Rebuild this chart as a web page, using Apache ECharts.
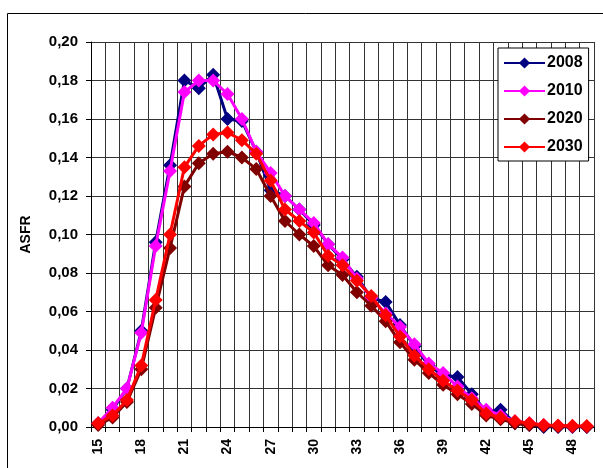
<!DOCTYPE html>
<html>
<head>
<meta charset="utf-8">
<script src="https://cdn.jsdelivr.net/npm/echarts@6/dist/echarts.min.js"></script>
<style>html,body{margin:0;padding:0;background:#fff;}#c{width:603px;height:468px;}</style>
</head>
<body>
<div id="c"></div>
<script>
var ages = ['15','16','17','18','19','20','21','22','23','24','25','26','27','28','29','30','31','32','33','34','35','36','37','38','39','40','41','42','43','44','45','46','47','48','49'];
var s2008 = [0.002,0.009,0.020,0.050,0.096,0.136,0.180,0.176,0.183,0.160,0.159,0.143,0.123,0.120,0.113,0.105,0.095,0.087,0.078,0.067,0.065,0.053,0.042,0.032,0.027,0.026,0.017,0.008,0.009,0.002,0.001,0.000,0.000,0.000,0.000];
var s2010 = [0.002,0.010,0.020,0.049,0.094,0.133,0.174,0.180,0.180,0.173,0.160,0.143,0.132,0.120,0.113,0.106,0.095,0.088,0.077,0.067,0.059,0.052,0.043,0.033,0.028,0.021,0.015,0.009,0.006,0.003,0.002,0.001,0.0005,0.0003,0.0002];
var s2020 = [0.001,0.005,0.013,0.030,0.062,0.093,0.125,0.137,0.142,0.143,0.140,0.134,0.120,0.107,0.100,0.094,0.084,0.079,0.070,0.063,0.055,0.044,0.035,0.028,0.022,0.017,0.012,0.006,0.004,0.002,0.001,0.0005,0.0003,0.0002,0.0001];
var s2030 = [0.002,0.006,0.014,0.032,0.066,0.100,0.135,0.146,0.152,0.153,0.149,0.142,0.128,0.113,0.107,0.101,0.089,0.084,0.076,0.068,0.058,0.047,0.037,0.030,0.024,0.019,0.014,0.007,0.005,0.003,0.002,0.001,0.0008,0.0006,0.0005];
var names = ['2008','2010','2020','2030'];
var colors = ['#000080','#FF00FF','#800000','#FF0000'];
var seriesData = [s2008, s2010, s2020, s2030];

var chart = echarts.init(document.getElementById('c'), null, {renderer:'canvas'});
var font = '"Liberation Sans", Arial, sans-serif';
chart.setOption({
  animation: false,
  backgroundColor: '#fff',
  textStyle: {fontFamily: font},
  graphic: [{
    type: 'rect', silent: true,
    shape: {x: 7.5, y: 13.5, width: 700, height: 600},
    style: {fill: 'none', stroke: '#000', lineWidth: 1}
  }],
  grid: {left: 91, top: 42, right: 9, bottom: 41, containLabel: false},
  legend: {
    orient: 'vertical', left: 498, top: 48,
    data: names,
    itemWidth: 41, itemHeight: 14, itemGap: 12,
    padding: [7, 6, 6, 5],
    borderColor: '#000', borderWidth: 1, backgroundColor: '#fff',
    textStyle: {fontFamily: font, fontWeight: 'bold', fontSize: 16, color: '#000', padding: [0,0,0,-3]}
  },
  xAxis: {
    type: 'category', data: ages, boundaryGap: true,
    axisLine: {lineStyle: {color: '#000', width: 1}},
    axisTick: {show: true, interval: 0, length: 5, lineStyle: {color: '#000'}},
    axisLabel: {interval: 2, rotate: 90, margin: 12, fontFamily: font, fontWeight: 'bold', fontSize: 14, color: '#000'},
    splitLine: {show: true, interval: 0, lineStyle: {color: '#333', width: 1}}
  },
  yAxis: {
    type: 'value', min: 0, max: 0.2, interval: 0.02,
    name: 'ASFR', nameLocation: 'middle', nameGap: 58, nameRotate: 90,
    nameTextStyle: {fontFamily: font, fontWeight: 'bold', fontSize: 14, color: '#000'},
    axisLine: {show: true, lineStyle: {color: '#000', width: 1}},
    axisTick: {show: true, length: 5, lineStyle: {color: '#000'}},
    axisLabel: {margin: 13, fontFamily: font, fontWeight: 'bold', fontSize: 15, color: '#000',
      formatter: function(v){ return v.toFixed(2).replace('.', ','); }},
    splitLine: {show: true, lineStyle: {color: '#333', width: 1}}
  },
  series: names.map(function(n, i){
    return {
      name: n, type: 'line', data: seriesData[i],
      symbol: 'diamond', symbolSize: 14, showSymbol: true, showAllSymbol: true,
      lineStyle: {color: colors[i], width: 3},
      itemStyle: {color: colors[i]},
      z: 2 + i
    };
  })
});
</script>
</body>
</html>
